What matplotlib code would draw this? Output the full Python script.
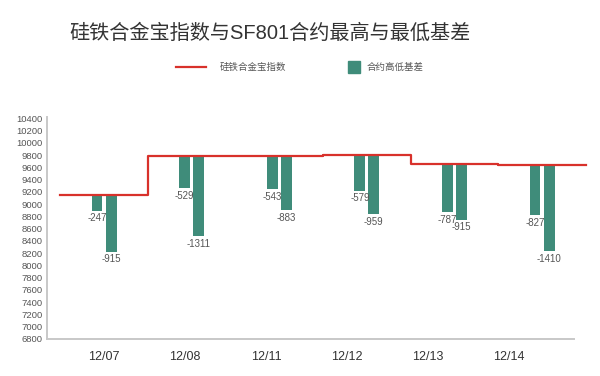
import numpy as np
import matplotlib
matplotlib.use('Agg')
import matplotlib.pyplot as plt
from matplotlib.lines import Line2D
from matplotlib.patches import Rectangle

plt.rcParams['font.family'] = ['Liberation Sans', 'Noto Sans CJK SC', 'DejaVu Sans']

# data
dates = ['12/07', '12/08', '12/11', '12/12', '12/13', '12/14']
index_vals = [9140, 9790, 9785, 9800, 9660, 9645]   # 硅铁合金宝指数
basis_high = [-247, -529, -543, -579, -787, -827]   # 最高基差
basis_low = [-915, -1311, -883, -959, -915, -1410]  # 最低基差
yticks = list(range(6800, 10401, 200))

red = '#d8312b'
green = '#3f8c7a'
grey = '#555555'

fig = plt.figure(figsize=(6, 3.76), dpi=100)
ax = fig.add_axes([47/600, 37/376, (574-47)/600, (339-117)/376])

x = np.arange(len(dates))
idx = np.array(index_vals)
hi = np.array(basis_high)
lo = np.array(basis_low)

w = 0.125
off = 0.08
ax.bar(x - off, -hi, bottom=idx + hi, width=w, color=green, zorder=2)
ax.bar(x + off, -lo, bottom=idx + lo, width=w, color=green, zorder=2)

for xi, top, h, l in zip(x, idx, hi, lo):
    ax.annotate(f'-{abs(h)}', (xi - off, top + h), xytext=(0, -2), textcoords='offset points',
                ha='center', va='top', fontsize=7, color=grey)
    ax.annotate(f'-{abs(l)}', (xi + off, top + l), xytext=(0, -2), textcoords='offset points',
                ha='center', va='top', fontsize=7, color=grey)

# step line across each category band
xs = np.r_[x - 0.5, x[-1] + 0.5]
ys = np.r_[idx, idx[-1]]
ax.step(xs, ys, where='post', color=red, lw=1.6, zorder=3, clip_on=False)

ax.set_xlim(-0.651, 5.365)
ax.set_ylim(6800, 10420)
ax.set_yticks(yticks)
ax.set_yticklabels([str(v) for v in yticks], fontsize=6.8, color=grey)
ax.set_xticks(x * 0.925)
ax.set_xticklabels(dates, fontsize=9, color='#333333')
ax.tick_params(axis='both', length=0)
ax.tick_params(axis='x', pad=9)
ax.tick_params(axis='y', pad=3)

for s in ['top', 'right']:
    ax.spines[s].set_visible(False)
for s in ['left', 'bottom']:
    ax.spines[s].set_color('#c8c8c8')
    ax.spines[s].set_linewidth(1.4)

fig.text(0.45, 0.912, '硅铁合金宝指数与SF801合约最高与最低基差', ha='center', va='center',
         fontsize=14.5, color='#333333')

# legend row
ly = 1 - 67/376
fig.add_artist(Line2D([176/600, 206/600], [ly, ly], color=red, lw=1.6, transform=fig.transFigure))
fig.text(220/600, ly, '硅铁合金宝指数', ha='left', va='center', fontsize=6.8, color=grey)
fig.add_artist(Rectangle((348/600, ly - 6/376), 12/600, 12/376, color=green, transform=fig.transFigure))
fig.text(367/600, ly, '合约高低基差', ha='left', va='center', fontsize=6.8, color=grey)

fig.savefig('out.png', dpi=100)
